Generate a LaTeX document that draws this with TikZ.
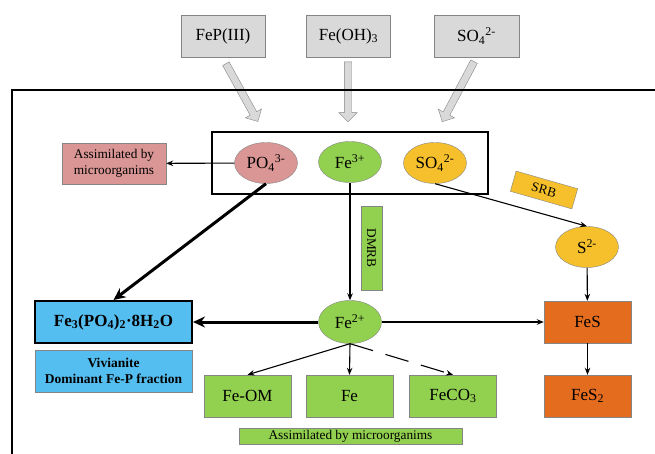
\documentclass[tikz,border=0pt]{standalone}
\usepackage{fontspec}
\setmainfont{Liberation Serif}
\usetikzlibrary{shapes.geometric,shapes.arrows,arrows.meta}

\definecolor{linegray}{HTML}{858585}
\definecolor{srcgray}{HTML}{D9D9D9}
\definecolor{rose}{HTML}{D99694}
\definecolor{leaf}{HTML}{92D050}
\definecolor{gold}{HTML}{F5C02C}
\definecolor{rust}{HTML}{E46C1F}
\definecolor{sky}{HTML}{55BEF0}

\begin{document}
\begin{tikzpicture}[x=1pt, y=1pt, >={Stealth[length=7pt,width=5.5pt]},
  every node/.style={font=\fontsize{17}{19}\selectfont, inner sep=0pt},
  src/.style={draw=linegray, fill=srcgray, minimum width=84pt, minimum height=42pt},
  ion/.style={ellipse, draw=linegray, minimum width=63pt, minimum height=41pt},
  prod/.style={draw=linegray, minimum width=87pt, minimum height=42pt},
  small/.style={font=\fontsize{13.3}{15.5}\selectfont},
  fat/.style={single arrow, draw=linegray, fill=srcgray, inner sep=3.5pt,
    single arrow head extend=5.5pt, single arrow head indent=0pt},
  heavy/.style={->, line width=3pt, >={Stealth[length=12pt,width=11pt]}}]
  \useasboundingbox (0,-454) rectangle (655,0);

  % inputs from above
  \node (fep) [src] at (223,-36) {FeP(III)};
  \node (feoh) [src] at (348.5,-36) {Fe(OH)\textsubscript{3}};
  \node (so4in) [src, minimum width=85pt] at (476.5,-36) {SO\textsubscript{4}\textsuperscript{2-}};

  \node (fepin) [fat, rotate=-61, minimum height=66pt] at (241,-91) {};
  \node (feohin) [fat, rotate=-90, minimum height=60pt] at (348,-90) {};
  \node (so4down) [fat, rotate=-118, minimum height=68pt] at (459,-90) {};

  \draw[line width=2.5pt] (12,-454) -- (12,-90) -- (655,-90);

  % dissolved pool
  \node (pool) [draw, line width=1.4pt, minimum width=276pt, minimum height=62pt] at (350,-163) {};
  \node (po4) [ion, fill=rose] at (266,-163) {PO\textsubscript{4}\textsuperscript{3-}};
  \node (fe3) [ion, fill=leaf] at (350,-162) {Fe\textsuperscript{3+}};
  \node (so4) [ion, fill=gold] at (435,-163) {SO\textsubscript{4}\textsuperscript{2-}};

  \node (assim) [draw=linegray, fill=rose, small, align=center, minimum width=104pt, minimum height=41pt]
    at (114,-163.5) {Assimilated by\\microorganims};
  \node (srb) [draw=linegray, fill=gold, small, rotate=-16, minimum width=64pt, minimum height=21pt]
    at (544,-190) {SRB};
  \node (dmrb) [draw=linegray, fill=leaf, small, rotate=-90, minimum width=84pt, minimum height=21pt]
    at (371.5,-248) {DMRB};

  \node (s2) [ion, fill=gold] at (587,-247) {S\textsuperscript{2-}};
  \node (fe2) [ion, fill=leaf, minimum height=43pt] at (350,-322) {Fe\textsuperscript{2+}};

  \node (fes) [prod, fill=rust] at (587.5,-322) {FeS};
  \node (fes2) [prod, fill=rust] at (587.5,-396) {FeS\textsubscript{2}};

  \node (viv) [draw, line width=2pt, fill=sky, minimum width=157pt, minimum height=42pt, font=\fontsize{17}{19}\selectfont\bfseries]
    at (113.5,-322) {Fe\textsubscript{3}(PO\textsubscript{4})\textsubscript{2}·8H\textsubscript{2}O};
  \node (vivnote) [draw=linegray, fill=sky, small, font=\fontsize{13.5}{16}\selectfont\bfseries, align=center,
    minimum width=157pt, minimum height=42pt] at (113.5,-371) {Vivianite\\Dominant Fe-P fraction};

  \node (feom) [prod, fill=leaf] at (247.5,-396) {Fe-OM};
  \node (fe) [prod, fill=leaf] at (349.5,-396) {Fe};
  \node (feco3) [prod, fill=leaf] at (453,-396) {FeCO\textsubscript{3}};
  \node (assimb) [draw=linegray, fill=leaf, small, minimum width=223pt, minimum height=16pt]
    at (350.5,-436) {Assimilated by microorganims};

  % transformations
  \draw[->, line width=1.1pt] (po4) -- (assim);
  \draw[heavy] (po4.south) -- (viv.north);
  \draw[->, line width=1.1pt] (fe3) -- (fe2);
  \draw[->, line width=1.1pt] (so4.south) -- (s2.north);
  \draw[->, line width=1.1pt] (s2) -- (fes);
  \draw[->, line width=1.1pt] (fes) -- (fes2);
  \draw[->, line width=1.1pt] (fe2) -- (fes);
  \draw[heavy] (fe2) -- (viv);
  \draw[->, line width=1.1pt] (fe2.south) -- (feom.north);
  \draw[->, line width=1.1pt] (fe2.south) -- (fe.north);
  \draw[->, line width=1.1pt, dash pattern=on 24pt off 13pt] (fe2.south) -- (feco3.north);
\end{tikzpicture}
\end{document}
